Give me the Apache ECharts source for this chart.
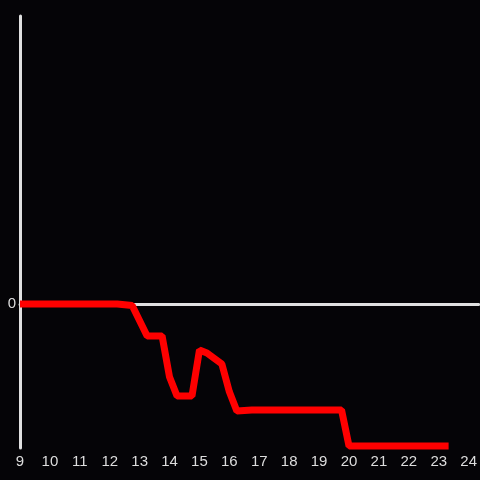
<!DOCTYPE html>
<html><head><meta charset="utf-8">
<script src="https://cdn.jsdelivr.net/npm/echarts@6/dist/echarts.min.js"></script>
<style>html,body{margin:0;padding:0;background:#050407}#c{width:480px;height:480px}</style>
</head><body><div id="c"></div>
<script>
var times = [9.0, 12.25, 12.75, 13.25, 13.75, 14.0, 14.25, 14.75, 15.0, 15.25, 15.75, 16.0, 16.25, 16.75, 19.75, 20.0, 23.33];
var values = [0, 0, -0.01, -0.222, -0.222, -0.507, -0.639, -0.639, -0.319, -0.34, -0.417, -0.61, -0.743, -0.736, -0.736, -0.986, -0.986];
var xTicks = [9,10,11,12,13,14,15,16,17,18,19,20,21,22,23,24];
var data = times.map(function(t,i){return [t, values[i]];});
var chart = echarts.init(document.getElementById('c'));
chart.setOption({
  backgroundColor: '#050407',
  animation: false,
  grid: {left: 20, right: 0, top: 16, bottom: 32},
  xAxis: {
    type: 'value', min: 9, max: 24.333, interval: 1,
    axisLine: {onZero: true, lineStyle: {color: '#e0e0e0', width: 3}},
    axisTick: {show: false},
    splitLine: {show: false},
    axisLabel: {color: '#dddddd', fontSize: 15, fontFamily: 'Liberation Sans', margin: 6,
      customValues: xTicks,
      formatter: function(v){ return xTicks.indexOf(v) >= 0 ? String(v) : ''; }},
  },
  yAxis: {
    type: 'value', min: -1, max: 2, interval: 1,
    axisLine: {show: true, lineStyle: {color: '#e0e0e0', width: 3}},
    axisTick: {show: false},
    splitLine: {show: false},
    axisLabel: {color: '#dddddd', fontSize: 15, fontFamily: 'Liberation Sans', margin: 4,
      formatter: function(v){ return v === 0 ? '0' : ''; }}
  },
  series: [{
    type: 'line', data: data, showSymbol: false,
    lineStyle: {color: '#ff0000', width: 7}, z: 3
  }]
});
</script></body></html>
